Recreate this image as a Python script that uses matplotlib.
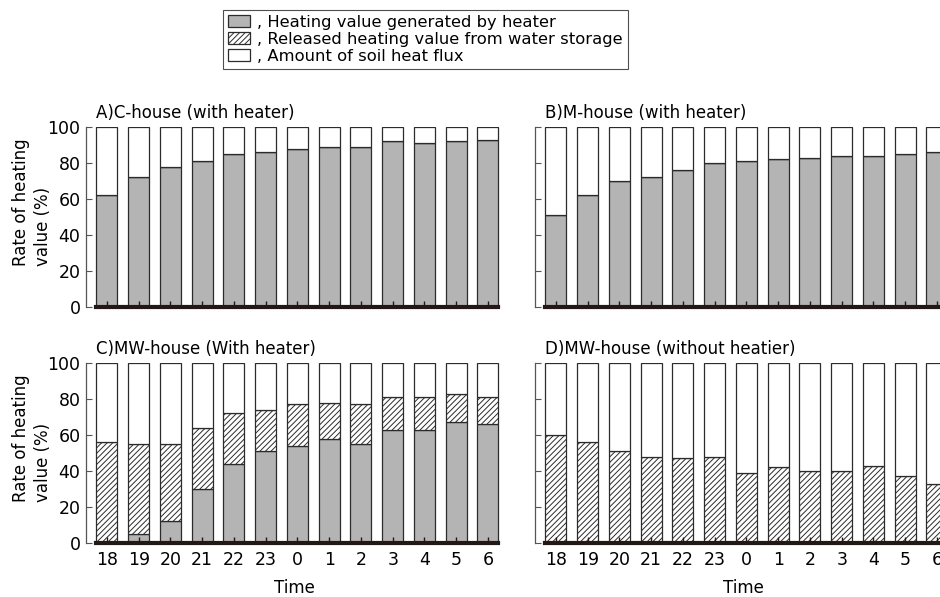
import matplotlib
matplotlib.use("Agg")
import matplotlib.pyplot as plt
from matplotlib.patches import Patch
import numpy as np

plt.rcParams['font.family'] = ['DejaVu Sans']
plt.rcParams['hatch.color'] = '#444444'
plt.rcParams['hatch.linewidth'] = 0.7

hours = ["18", "19", "20", "21", "22", "23", "0", "1", "2", "3", "4", "5", "6"]

# Panel A: C-house (with heater)
a_heater = [62, 72, 78, 81, 85, 86, 88, 89, 89, 92, 91, 92, 93]
a_storage = [0] * 13
# Panel B: M-house (with heater)
b_heater = [51, 62, 70, 72, 76, 80, 81, 82, 83, 84, 84, 85, 86]
b_storage = [0] * 13
# Panel C: MW-house (with heater)
c_heater = [0, 5, 12, 30, 44, 51, 54, 58, 55, 63, 63, 67, 66]
c_storage = [56, 50, 43, 34, 28, 23, 23, 20, 22, 18, 18, 16, 15]
# Panel D: MW-house (without heater)
d_heater = [0] * 13
d_storage = [60, 56, 51, 48, 47, 48, 39, 42, 40, 40, 43, 37, 33]

titles = ["A)C-house (with heater)", "B)M-house (with heater)",
          "C)MW-house (With heater)", "D)MW-house (without heatier)"]
legend_labels = [", Heating value generated by heater",
                 ", Released heating value from water storage",
                 ", Amount of soil heat flux"]
yticks = [0, 20, 40, 60, 80, 100]

W, H = 940, 597
fig = plt.figure(figsize=(W / 100, H / 100), dpi=100)

GRAY = '#b4b4b4'
EDGE = '#2b2b2b'
DARK = '#231815'

def px_axes(left, bottom_px, right, top_px):
    return fig.add_axes([left / W, 1 - bottom_px / H, (right - left) / W, (bottom_px - top_px) / H])

panels = [
    (86, 307, 127, a_heater, a_storage, titles[0], True, False),
    (535, 307, 127, b_heater, b_storage, titles[1], False, False),
    (86, 543, 363, c_heater, c_storage, titles[2], True, True),
    (535, 543, 363, d_heater, d_storage, titles[3], False, True),
]

xlo, xhi = -0.66, 12.5
unit = 31.75
for left, y0, y100, heat, stor, title, show_y, show_x in panels:
    width_px = (xhi - xlo) * unit
    ax = px_axes(left, y0, left + width_px, y100)
    x = np.arange(len(hours))
    heat = np.array(heat, dtype=float)
    stor = np.array(stor, dtype=float)
    soil = 100 - heat - stor
    bw = 0.66
    ax.bar(x, heat, bw, color=GRAY, edgecolor=EDGE, linewidth=0.9)
    ax.bar(x, stor, bw, bottom=heat, color='white', edgecolor=EDGE, linewidth=0.9, hatch='//////')
    ax.bar(x, soil, bw, bottom=heat + stor, color='white', edgecolor=EDGE, linewidth=0.9)
    ax.set_xlim(xlo, xhi)
    ax.set_ylim(0, 100)
    ax.spines['top'].set_visible(False)
    ax.spines['right'].set_visible(False)
    ax.spines['left'].set_color('#555555')
    ax.spines['left'].set_linewidth(0.9)
    ax.spines['bottom'].set_color(DARK)
    ax.spines['bottom'].set_linewidth(3)
    ax.spines['bottom'].set_bounds(-bw / 2, len(hours) - 1 + bw / 2)
    ax.set_yticks(yticks)
    ax.tick_params(axis='y', direction='in', length=4, width=0.8, color='#555555',
                   labelsize=12.5, pad=4)
    ax.set_xticks(x)
    ax.tick_params(axis='x', direction='in', length=4, width=1.0, color=DARK,
                   labelsize=12.5, pad=6)
    if show_y:
        ax.set_yticklabels([str(v) for v in yticks])
        fig.text(32 / W, 1 - (y0 - 105) / H, "Rate of heating\nvalue (%)", rotation=90,
                 ha='center', va='center', multialignment='left', fontsize=12, linespacing=1.3)
    else:
        ax.set_yticklabels([])
    if show_x:
        ax.set_xticklabels(hours)
        ax.set_xlabel("Time", fontsize=12, labelpad=7)
    else:
        ax.set_xticklabels([])
    ax.text(-0.35, 103, title, fontsize=12, ha='left', va='bottom')

handles = [Patch(facecolor=GRAY, edgecolor=EDGE, linewidth=0.9),
           Patch(facecolor='white', edgecolor=EDGE, linewidth=0.9, hatch='//////'),
           Patch(facecolor='white', edgecolor=EDGE, linewidth=0.9)]
leg = fig.legend(handles, legend_labels, loc='upper left',
                 bbox_to_anchor=(223 / W, 1 - 10 / H), borderaxespad=0,
                 fontsize=11.8, frameon=True, fancybox=False, handlelength=1.35,
                 handleheight=0.75, handletextpad=0.45, labelspacing=0.12,
                 borderpad=0.3)
leg.get_frame().set_edgecolor('#222222')
leg.get_frame().set_linewidth(0.8)

fig.savefig("out.png", dpi=100)
